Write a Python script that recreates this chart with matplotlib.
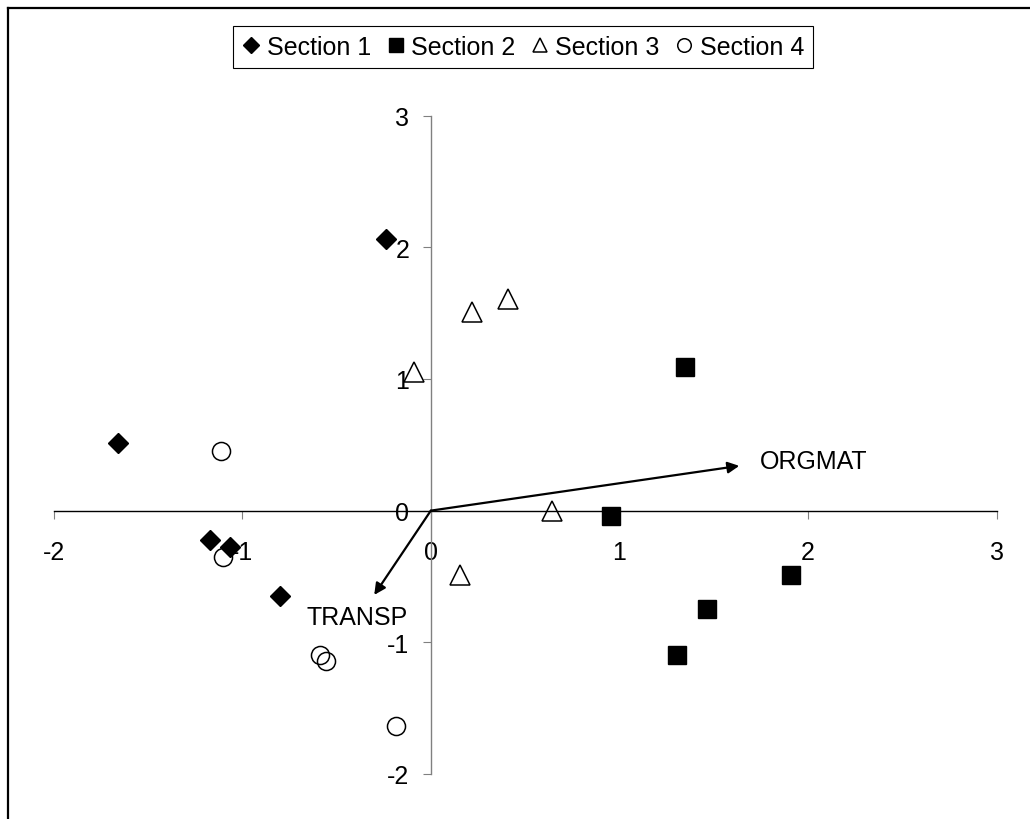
import numpy as np
import matplotlib
matplotlib.use("Agg")
import matplotlib.pyplot as plt
from matplotlib.lines import Line2D

plt.rcParams['font.family'] = ['Liberation Sans', 'DejaVu Sans']
plt.rcParams['font.size'] = 18

# site scores per section
sec1_x = [-0.24, -1.66, -1.17, -1.065, -0.80]
sec1_y = [2.06, 0.51, -0.22, -0.28, -0.65]
sec2_x = [1.35, 0.955, 1.91, 1.465, 1.305]
sec2_y = [1.09, -0.04, -0.49, -0.75, -1.10]
sec3_x = [0.22, 0.41, -0.087, 0.645, 0.157]
sec3_y = [1.505, 1.605, 1.05, 0.0, -0.487]
sec4_x = [-1.11, -1.10, -0.59, -0.558, -0.185]
sec4_y = [0.45, -0.355, -1.10, -1.145, -1.633]

# environmental vectors
vec_names = ["ORGMAT", "TRANSP"]
vec_x = [1.635, -0.30]
vec_y = [0.34, -0.64]
label_x = [1.745, -0.66]
label_y = [0.38, -0.805]

ticks = [-2, -1, 0, 1, 2, 3]

fig = plt.figure(figsize=(10.3, 8.2), dpi=100)
ax = fig.add_axes([0.052, 0.0549, 0.9157, 0.8029])

ax.plot(sec1_x, sec1_y, ls='none', marker='D', ms=10.5, mfc='black', mec='black', mew=1, label="Section 1", zorder=4)
ax.plot(sec2_x, sec2_y, ls='none', marker='s', ms=13.5, mfc='black', mec='black', mew=1, label="Section 2", zorder=3)
ax.plot(sec3_x, sec3_y, ls='none', marker='^', ms=14, mfc='none', mec='black', mew=1.1, label="Section 3", zorder=3)
ax.plot(sec4_x, sec4_y, ls='none', marker='o', ms=13, mfc='none', mec='black', mew=1.1, label="Section 4", zorder=3)

for name, vx, vy, lx, ly in zip(vec_names, vec_x, vec_y, label_x, label_y):
    ax.annotate("", xy=(vx, vy), xytext=(0, 0),
                arrowprops=dict(arrowstyle='-|>', lw=1.6, color='black',
                                mutation_scale=17, shrinkA=0, shrinkB=0))
    ax.text(lx, ly, name, ha='left', va='center', fontsize=18)

ax.set_xlim(-2, 3)
ax.set_ylim(-2, 3)
ax.set_xticks(ticks)
ax.set_yticks(ticks)
ax.set_xticklabels([str(t) for t in ticks])
ax.set_yticklabels([str(t) for t in ticks])

ax.spines['left'].set_position(('data', 0))
ax.spines['bottom'].set_position(('data', 0))
ax.spines['top'].set_visible(False)
ax.spines['right'].set_visible(False)
ax.spines['left'].set_color('#808080')
ax.spines['left'].set_linewidth(1.0)
ax.spines['bottom'].set_color('black')
ax.spines['bottom'].set_linewidth(1.0)
ax.tick_params(axis='x', direction='out', length=6, width=0.8, color='#808080', pad=15.5, labelsize=18)
ax.tick_params(axis='y', direction='out', length=6, width=0.8, color='#808080', pad=9.5, labelsize=18)
ax.patch.set_visible(False)

leg = fig.legend(loc='center', bbox_to_anchor=(523 / 1030, 1 - 48 / 820), ncol=4,
                 frameon=True, fancybox=False, edgecolor='black', framealpha=1,
                 markerscale=0.75, handlelength=0.75, handletextpad=0.25,
                 columnspacing=0.6, borderpad=0.35, fontsize=18)
leg.get_frame().set_linewidth(0.8)

# outer chart frame (top and left edges visible)
fig.add_artist(Line2D([7.8 / 1030, 1.0], [1 - 8.5 / 820, 1 - 8.5 / 820], color='black', lw=1.6, transform=fig.transFigure))
fig.add_artist(Line2D([7.8 / 1030, 7.8 / 1030], [0.0, 1 - 8.5 / 820], color='black', lw=1.6, transform=fig.transFigure))

fig.savefig("out.png", dpi=100)
